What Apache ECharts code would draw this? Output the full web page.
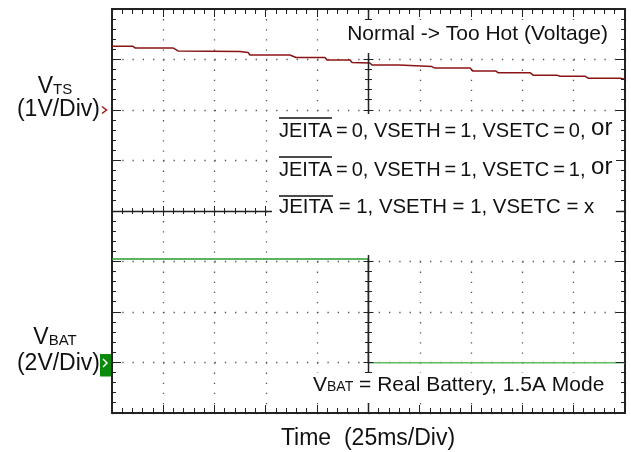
<!DOCTYPE html>
<html><head><meta charset="utf-8">
<script src="https://cdn.jsdelivr.net/npm/echarts@6/dist/echarts.min.js"></script>
<style>html,body{margin:0;padding:0;background:#fff}#c{width:631px;height:452px}</style>
</head><body><div id="c"></div>
<script>
// ---- data (time in ms, 25 ms/div; voltages in V) ----
const tsTime = [0, 10.2, 11.2, 29.7, 32.2, 62.4, 66.3, 67.2, 86.7, 89.7, 103.8, 104.8, 116, 117, 125.7, 126.7, 139.9, 140.8, 155.9, 157.4, 174.5, 175.9, 187.1, 188.1, 203.7, 205.2, 216.8, 218.3, 230.5, 232, 247.6, 250];
const tsVolt = [1.26, 1.26, 1.23, 1.23, 1.17, 1.16, 1.14, 1.09, 1.09, 1.04, 1.04, 0.99, 0.99, 0.94, 0.93, 0.89, 0.89, 0.86, 0.86, 0.83, 0.83, 0.77, 0.77, 0.74, 0.74, 0.69, 0.69, 0.67, 0.67, 0.63, 0.63, 0.61];
const batTime = [0, 124.9, 124.9, 250];
const batVolt = [4.10, 4.10, -0.01, -0.01];

// ---- texts ----
const titleText = 'Normal -> Too Hot (Voltage)';
const jeitaLines = [
  ['JEITA', '\u2009=\u20090, VSETH\u2009=\u20091, VSETC\u2009=\u20090, ', 'or'],
  ['JEITA', '\u2009=\u20090, VSETH\u2009=\u20091, VSETC\u2009=\u20091, ', 'or'],
  ['JEITA', ' = 1, VSETH = 1, VSETC = x', '']
];
const batNote = ['V', 'BAT', ' = Real Battery, 1.5A Mode'];
const tsLabel = ['V', 'TS', '(1V/Div)'];
const batLabel = ['V', 'BAT', '(2V/Div)'];
const xTitle = 'Time  (25ms/Div)';

const FONT = '"Liberation Sans", Arial, Helvetica, sans-serif';
const chart = echarts.init(document.getElementById('c'));

// axis ranges (scope divisions)
const X_MIN = 0, X_MAX = 250, X_DIV = 25;
const TS_MIN = -6, TS_MAX = 2, TS_DIV = 1;
const BAT_MIN = -2, BAT_MAX = 14, BAT_DIV = 2;
const GRID = {left: 112, top: 9, width: 513, height: 404};

const borderLine = () => ({color: '#222', width: 2});
const dotX = {color: '#555', width: 1.3, type: [1.3, 8.8]};
const dotY = {color: '#555', width: 1.3, type: [1.3, 8.96]};
const noTick = {show: false};

function borderX(pos, split) {
  return {type: 'value', min: X_MIN, max: X_MAX, interval: X_DIV, position: pos,
    axisLine: {show: true, onZero: false, lineStyle: borderLine()},
    axisTick: noTick, minorTick: noTick,
    axisLabel: {show: false}, splitLine: {show: split, lineStyle: dotX}};
}
function borderY(pos, min, max, itv, split) {
  return {type: 'value', min: min, max: max, interval: itv, position: pos,
    axisLine: {show: true, onZero: false, lineStyle: borderLine()},
    axisTick: noTick, minorTick: noTick,
    axisLabel: {show: false}, splitLine: {show: split, lineStyle: dotY}};
}

const option = {
  animation: false,
  backgroundColor: '#fff',
  grid: Object.assign({outerBoundsMode: 'none', containLabel: false}, GRID),
  xAxis: [
    borderX('bottom', true),
    borderX('top', false)
  ],
  yAxis: [
    borderY('left', TS_MIN, TS_MAX, TS_DIV, true),
    borderY('right', BAT_MIN, BAT_MAX, BAT_DIV, false)
  ],
  series: [
    {type: 'line', name: 'VTS', xAxisIndex: 0, yAxisIndex: 0, symbol: 'none',
     data: tsTime.map((t, i) => [t, tsVolt[i]]),
     lineStyle: {color: '#8a1414', width: 1.5}, z: 5},
    {type: 'line', name: 'VBAT', xAxisIndex: 0, yAxisIndex: 1, symbol: 'none',
     data: batTime.slice(0, 3).map((t, i) => [t, batVolt[i]]),
     lineStyle: {color: '#2a9a2a', width: 1.6}, z: 5},
    {type: 'line', name: 'VBAT low', xAxisIndex: 0, yAxisIndex: 1, symbol: 'none',
     data: batTime.slice(2).map((t, i) => [t, batVolt[i + 2]]),
     lineStyle: {color: '#62bb62', width: 1.6}, z: 5}
  ]
};
chart.setOption(option);

const g = [];

// ---- graticule: centre cross and ticks, laid out on the grid rectangle ----
const xL = GRID.left, xR = GRID.left + GRID.width, yT = GRID.top, yB = GRID.top + GRID.height;
const xC = xL + GRID.width / 2, yC = yT + GRID.height / 2;
const nX = (X_MAX - X_MIN) / X_DIV * 5, nY = (TS_MAX - TS_MIN) / TS_DIV * 5;
const snap = v => Math.round(v - 0.5) + 0.5;

g.push({type: 'line', z: 60, shape: {x1: xL, y1: snap(yC), x2: xR, y2: snap(yC)}, style: {stroke: '#222', lineWidth: 1.5}});
g.push({type: 'line', z: 60, shape: {x1: snap(xC), y1: yT, x2: snap(xC), y2: yB}, style: {stroke: '#222', lineWidth: 1.5}});

function addTick(x1, y1, x2, y2) {
  g.push({type: 'line', z: 60, shape: {x1: x1, y1: y1, x2: x2, y2: y2}, style: {stroke: '#222', lineWidth: 1}});
}
for (let k = 0; k <= nX; k++) {
  const major = k % 5 === 0;
  const x = snap(xL + k * GRID.width / nX);
  const L = major ? 8 : 5, c = major ? 5 : 3;
  addTick(x, yB, x, yB - L);
  addTick(x, yT, x, yT + L);
  addTick(x, yC - c, x, yC + c);
}
for (let k = 0; k <= nY; k++) {
  const major = k % 5 === 0;
  const y = snap(yT + k * GRID.height / nY);
  const L = major ? 9 : 4, c = major ? 5 : 3.5;
  addTick(xL, y, xL + L, y);
  addTick(xR, y, xR - L, y);
  addTick(xC - c, y, xC + c, y);
}

// ---- annotations ----
const y0ts = chart.convertToPixel({yAxisIndex: 0}, 0);
const y0bat = chart.convertToPixel({yAxisIndex: 1}, 0);
const ctx = document.createElement('canvas').getContext('2d');

const boxes = [[338, 20, 278, 33], [272, 114, 344, 141], [308, 373, 308, 30]];
boxes.forEach(b => g.push({type: 'rect', shape: {x: b[0], y: b[1], width: b[2], height: b[3]}, style: {fill: '#fff'}, z: 70}));

g.push({type: 'text', x: 608, y: 34, z: 80, style: {text: titleText, fontSize: 21, fontFamily: FONT, fill: '#111', align: 'right', verticalAlign: 'middle'}});

const lineY = [129, 168, 207];
const lineFs = [20, 20, 20.4];
jeitaLines.forEach((ln, i) => {
  ctx.font = lineFs[i] + 'px ' + FONT;
  const w = ctx.measureText(ln[0]).width;
  g.push({type: 'text', x: 279, y: lineY[i], z: 80, style: {
    text: '{n|' + ln[0] + ln[1] + '}' + (ln[2] ? '{o|' + ln[2] + '}' : ''),
    fontFamily: FONT, fill: '#111', align: 'left', verticalAlign: 'middle',
    rich: {n: {fontSize: lineFs[i], fontFamily: FONT, fill: '#111', verticalAlign: 'bottom'},
           o: {fontSize: 24, fontFamily: FONT, fill: '#111', verticalAlign: 'bottom', padding: [0, 0, 1, 0]}}}});
  g.push({type: 'line', z: 80, shape: {x1: 279, y1: lineY[i] - 11, x2: 279 + w, y2: lineY[i] - 11}, style: {stroke: '#111', lineWidth: 1.5}});
});

g.push({type: 'text', x: 313, y: 385, z: 80, style: {
  text: '{a|' + batNote[0] + '}{b|' + batNote[1] + '}{a|' + batNote[2] + '}',
  align: 'left', verticalAlign: 'middle',
  rich: {a: {fontSize: 21, fontFamily: FONT, fill: '#111', verticalAlign: 'bottom'},
         b: {fontSize: 14, fontFamily: FONT, fill: '#111', verticalAlign: 'bottom', padding: [0, 0, 1, 0]}}}});

function sideLabel(lbl, cx, yTop, yBot) {
  g.push({type: 'text', x: cx, y: yTop, z: 80, style: {
    text: '{a|' + lbl[0] + '}{b|' + lbl[1] + '}', align: 'center', verticalAlign: 'middle',
    rich: {a: {fontSize: 23, fontFamily: FONT, fill: '#111', verticalAlign: 'bottom'},
           b: {fontSize: 15, fontFamily: FONT, fill: '#111', verticalAlign: 'bottom', padding: [0, 0, 1, 0]}}}});
  g.push({type: 'text', x: 100, y: yBot, z: 80, style: {text: lbl[2], fontSize: 23, fontFamily: FONT, fill: '#111', align: 'right', verticalAlign: 'middle'}});
}
sideLabel(tsLabel, 55, 87, y0ts);
sideLabel(batLabel, 55, 338, y0bat + 1);

// channel ground markers
g.push({type: 'polyline', z: 80, shape: {points: [[102, y0ts - 3.5], [106.5, y0ts], [102, y0ts + 3.5]]}, style: {stroke: '#9b1515', lineWidth: 1.5, fill: null}});
g.push({type: 'rect', z: 80, shape: {x: 100, y: y0bat - 8.5, width: 11, height: 22.5}, style: {fill: '#0a8a0a'}});
g.push({type: 'polyline', z: 81, shape: {points: [[103, y0bat - 3.5], [107, y0bat + 0.5], [103, y0bat + 4.5]]}, style: {stroke: '#fff', lineWidth: 1.5, fill: null}});

g.push({type: 'text', x: 368, y: 439, z: 80, style: {text: xTitle, fontSize: 23, fontFamily: FONT, fill: '#111', align: 'center', verticalAlign: 'middle'}});

chart.setOption({graphic: {elements: g}});
</script></body></html>
